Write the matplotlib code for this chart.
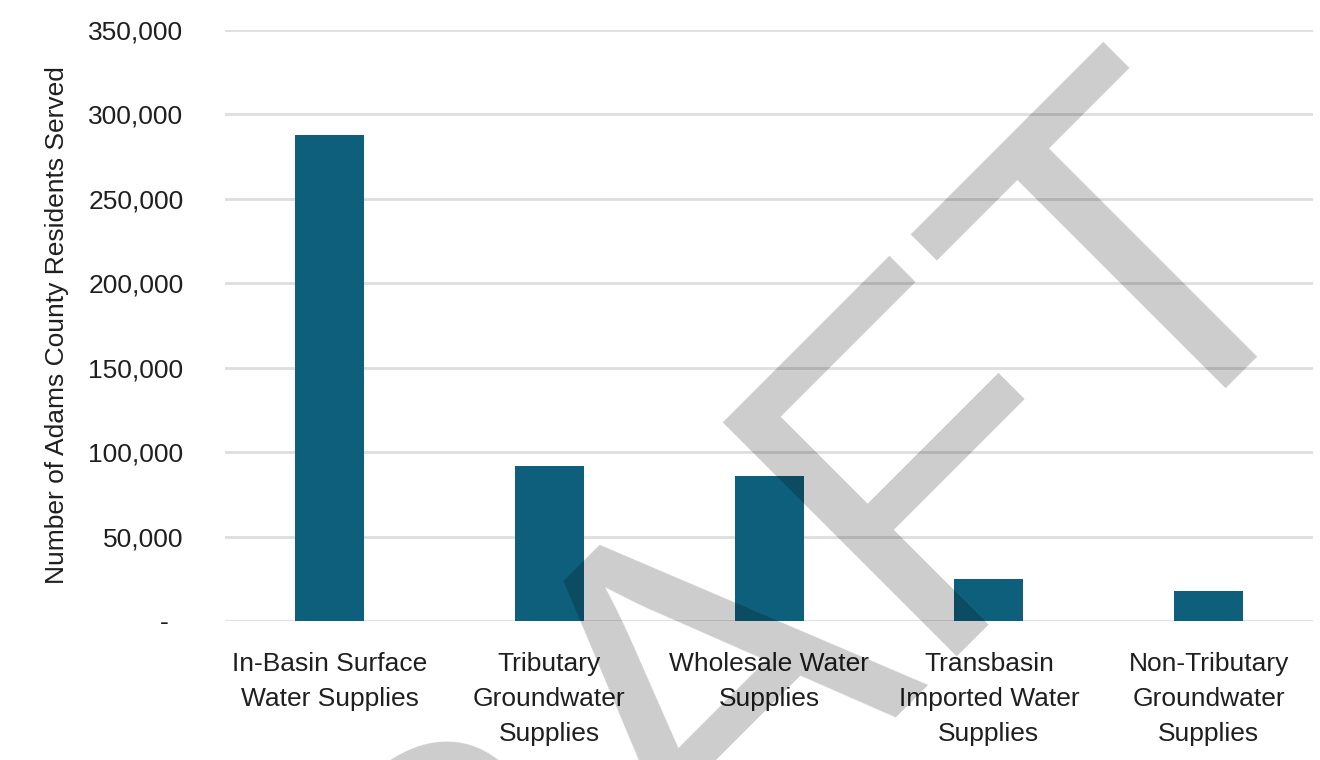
import matplotlib
matplotlib.use("Agg")
import matplotlib.pyplot as plt

# Residents served by water supply source
categories = [
    "In-Basin Surface\nWater Supplies",
    "Tributary\nGroundwater\nSupplies",
    "Wholesale Water\nSupplies",
    "Transbasin\nImported Water\nSupplies",
    "Non-Tributary\nGroundwater\nSupplies",
]
residents = [288000, 92000, 86000, 25000, 18000]

y_ticks = [0, 50000, 100000, 150000, 200000, 250000, 300000, 350000]
y_tick_labels = ["-  ", "50,000", "100,000", "150,000", "200,000",
                 "250,000", "300,000", "350,000"]

plt.rcParams["font.family"] = ["Liberation Sans", "DejaVu Sans"]

fig = plt.figure(figsize=(13.2, 7.6), dpi=100)
ax = fig.add_axes([0.1705, 0.1829, 0.8242, 0.7776])

x = range(len(categories))
ax.bar(x, residents, width=0.314, color="#0e5f7c", zorder=3)

ax.set_xlim(-0.475, 4.475)
ax.set_ylim(0, 350000)
ax.set_yticks(y_ticks)
ax.set_yticklabels(y_tick_labels, fontsize=19, color="#1f1f1f")
ax.set_xticks(list(x))
ax.set_xticklabels(categories, fontsize=19, color="#1f1f1f", linespacing=1.58)
ax.tick_params(axis="y", length=0, pad=30)
ax.tick_params(axis="x", length=0, pad=22)

ax.set_ylabel("Number of Adams County Residents Served", fontsize=19,
              color="#1f1f1f", labelpad=14)

ax.grid(axis="y", color="#dedede", linewidth=2, zorder=0)
for side in ["top", "right", "left", "bottom"]:
    ax.spines[side].set_visible(False)

# DRAFT watermark across the page
fig.text(199.5 / 1320, 1 - 1375.5 / 760, "DRAFT", fontsize=347, rotation=45,
         rotation_mode="anchor", ha="left", va="baseline",
         color="black", alpha=0.2, zorder=10)

fig.savefig("out.png", dpi=100)
